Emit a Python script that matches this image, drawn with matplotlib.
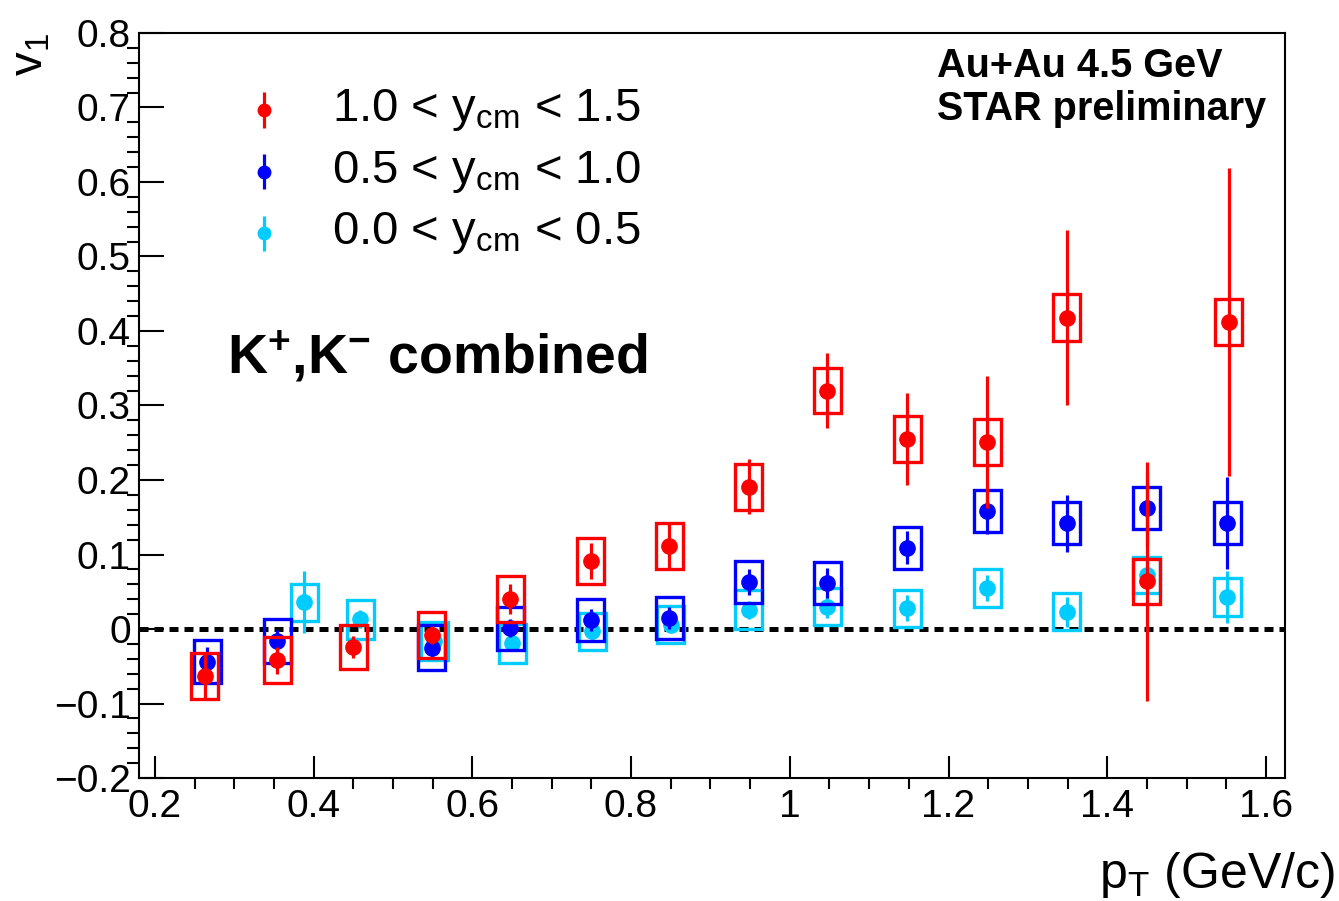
import matplotlib
matplotlib.use("Agg")
import matplotlib.pyplot as plt
from matplotlib.patches import Rectangle
from matplotlib.ticker import MultipleLocator, FuncFormatter

plt.rcParams['font.family'] = 'Liberation Sans'
plt.rcParams['mathtext.fontset'] = 'custom'
plt.rcParams['mathtext.rm'] = 'Liberation Sans'
plt.rcParams['mathtext.it'] = 'Liberation Sans:italic'
plt.rcParams['mathtext.bf'] = 'Liberation Sans:bold'

# v1 vs pT, three rapidity windows (stat errors as bars, sys errors as boxes)
red_x = [0.263, 0.354, 0.450, 0.549, 0.648, 0.749, 0.848, 0.948, 1.047, 1.148, 1.249, 1.349, 1.450, 1.553]
red_v1 = [-0.063, -0.042, -0.024, -0.008, 0.040, 0.091, 0.111, 0.191, 0.320, 0.255, 0.251, 0.418, 0.064, 0.412]
red_stat = [0.030, 0.018, 0.015, 0.012, 0.020, 0.024, 0.030, 0.037, 0.050, 0.062, 0.088, 0.118, 0.160, 0.207]
red_sys = [0.031, 0.031, 0.030, 0.031, 0.031, 0.031, 0.031, 0.031, 0.030, 0.031, 0.031, 0.031, 0.030, 0.031]

blue_x = [0.266, 0.354, 0.549, 0.648, 0.749, 0.848, 0.948, 1.047, 1.148, 1.249, 1.349, 1.450, 1.551]
blue_v1 = [-0.044, -0.016, -0.025, 0.001, 0.012, 0.015, 0.063, 0.062, 0.109, 0.158, 0.142, 0.162, 0.142]
blue_stat = [0.020, 0.015, 0.015, 0.012, 0.015, 0.015, 0.018, 0.020, 0.022, 0.030, 0.038, 0.050, 0.062]
blue_sys = [0.029, 0.029, 0.030, 0.029, 0.028, 0.028, 0.028, 0.028, 0.028, 0.028, 0.028, 0.028, 0.028]

cyan_x = [0.388, 0.459, 0.552, 0.650, 0.751, 0.850, 0.948, 1.047, 1.148, 1.249, 1.349, 1.450, 1.551]
cyan_v1 = [0.036, 0.013, -0.016, -0.019, -0.003, 0.006, 0.026, 0.030, 0.028, 0.055, 0.023, 0.072, 0.043]
cyan_stat = [0.042, 0.012, 0.010, 0.010, 0.010, 0.010, 0.012, 0.015, 0.017, 0.018, 0.020, 0.025, 0.035]
cyan_sys = [0.025, 0.026, 0.025, 0.026, 0.025, 0.025, 0.026, 0.025, 0.025, 0.025, 0.025, 0.024, 0.025]

labels = ['1.0 < y$_\\mathregular{cm}$ < 1.5',
          '0.5 < y$_\\mathregular{cm}$ < 1.0',
          '0.0 < y$_\\mathregular{cm}$ < 0.5']

red = '#ff0000'
blue = '#0000ff'
cyan = '#00ccff'

fig = plt.figure(figsize=(13.39, 9.01), dpi=100)
ax = fig.add_axes([0.1038, 0.1365, 0.9597 - 0.1038, 0.9634 - 0.1365])

ax.axhline(0, color='k', lw=3.6, ls=(0, (1.8, 1.2)), zorder=1)

box_hw = 0.017
series = [(cyan_x, cyan_v1, cyan_stat, cyan_sys, cyan),
          (blue_x, blue_v1, blue_stat, blue_sys, blue),
          (red_x, red_v1, red_stat, red_sys, red)]
for i, (xs, ys, st, sy, c) in enumerate(series):
    for x, y, s in zip(xs, ys, sy):
        ax.add_patch(Rectangle((x - box_hw, y - s), 2 * box_hw, 2 * s,
                               fill=False, ec=c, lw=2.4, zorder=2 + i))
    ax.errorbar(xs, ys, yerr=st, fmt='o', color=c, ms=11, elinewidth=2.3,
                capsize=0, zorder=2 + i)

ax.set_xlim(0.18, 1.624)
ax.set_ylim(-0.2, 0.8)
ax.xaxis.set_major_locator(MultipleLocator(0.2))
ax.xaxis.set_minor_locator(MultipleLocator(0.05))
ax.yaxis.set_major_locator(MultipleLocator(0.1))
ax.yaxis.set_minor_locator(MultipleLocator(0.02))
fmt = FuncFormatter(lambda v, p: ('%g' % round(v, 3)).replace('-', '\u2212'))
ax.xaxis.set_major_formatter(fmt)
ax.yaxis.set_major_formatter(fmt)
ax.tick_params(direction='in', labelsize=28, width=1.5, top=False, right=False)
ax.tick_params(axis='y', which='major', length=18, pad=6)
ax.tick_params(axis='y', which='minor', length=9, width=1.5)
ax.tick_params(axis='x', which='major', length=16, pad=8)
ax.tick_params(axis='x', which='minor', length=8, width=1.5)
for sp in ax.spines.values():
    sp.set_linewidth(1.5)

# legend drawn by hand
leg_y = [0.897, 0.814, 0.731]
for yy, c, lab in zip(leg_y, [red, blue, cyan], labels):
    ax.errorbar([0.109], [yy], yerr=[0.024], fmt='o', color=c, ms=9,
                elinewidth=2.3, capsize=0, transform=ax.transAxes, clip_on=False)
    ax.text(0.168, yy, lab, transform=ax.transAxes, fontsize=34, va='center', ha='left')

ax.text(0.696, 0.941, 'Au+Au 4.5 GeV', transform=ax.transAxes, fontsize=28.5,
        fontweight='bold', va='baseline')
ax.text(0.696, 0.883, 'STAR preliminary', transform=ax.transAxes, fontsize=28.5,
        fontweight='bold', va='baseline')
ax.text(0.0768, 0.544, '$\\mathbf{K^{+}}$,$\\mathbf{K^{-}}$ combined', transform=ax.transAxes,
        fontsize=40, fontweight='bold', va='baseline')

fig.text(30 / 1339, 1 - 33 / 901, 'v$_\\mathregular{1}$', rotation=90, fontsize=34,
         ha='center', va='top')
fig.text(1335 / 1339, 1 - 875 / 901, 'p$_\\mathregular{T}$ (GeV/c)', fontsize=36,
         ha='right', va='center')

fig.savefig('out.png', dpi=100)
